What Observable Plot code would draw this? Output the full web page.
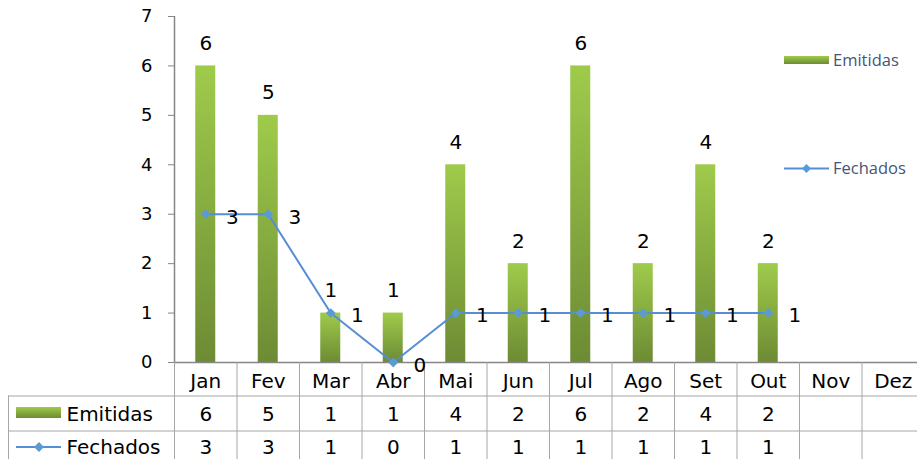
<!DOCTYPE html>
<html>
<head>
<meta charset="utf-8">
<script src="https://cdn.jsdelivr.net/npm/d3@7"></script>
<script src="https://cdn.jsdelivr.net/npm/@observablehq/plot@0.6"></script>
<style>
html, body { margin: 0; padding: 0; background: #fff; }
#chart svg { display: block; }
</style>
</head>
<body>
<div id="chart"></div>
<script>
// ---- data ----
const months = ["Jan", "Fev", "Mar", "Abr", "Mai", "Jun", "Jul", "Ago", "Set", "Out", "Nov", "Dez"];
const emitidas = [6, 5, 1, 1, 4, 2, 6, 2, 4, 2, null, null];
const fechados = [3, 3, 1, 0, 1, 1, 1, 1, 1, 1, null, null];
const seriesNames = ["Emitidas", "Fechados"];
const yTicks = [0, 1, 2, 3, 4, 5, 6, 7];

const rows = months.map((m, i) => ({month: m, emitidas: emitidas[i], fechados: fechados[i]}));
const emitRows = rows.filter(d => d.emitidas != null);
const fechRows = rows.filter(d => d.fechados != null);

// ---- layout ----
const W = 917, H = 459;
const frameLeft = 174, frameTop = 16, frameBottom = 362, frameRight = 924;
const step = (frameRight - frameLeft) / months.length;
const frameH = frameBottom - frameTop;
const tableH = H - frameBottom;
const labelColW = 166;
const rowLine1 = 33.5, rowLine2 = 68.5;
const gridColor = "#a6a6a6", axisColor = "#868686";
const lineColor = "#558ed5", markerColor = "#5b9bd5";
const legendText = "#44557a";

function diamond(g, cx, cy, h) {
  g.append("path")
    .attr("d", `M${cx},${cy - h}L${cx + h},${cy}L${cx},${cy + h}L${cx - h},${cy}Z`)
    .attr("fill", markerColor);
}

const legendMark = () => {
  const g = d3.create("svg:g");
  const lg = g.append("defs").append("linearGradient")
    .attr("id", "emitGrad").attr("x1", 0).attr("y1", 0).attr("x2", 0).attr("y2", 1);
  lg.append("stop").attr("offset", "0%").attr("stop-color", "#9fcb4b");
  lg.append("stop").attr("offset", "100%").attr("stop-color", "#6d8b34");

  // right-side legend
  const rl = g.append("g").attr("font-family", "'Open Sans', sans-serif").attr("font-size", 16.5)
    .attr("fill", legendText).attr("text-anchor", "start");
  rl.append("rect").attr("x", 784).attr("y", 56).attr("width", 45).attr("height", 8).attr("fill", "url(#emitGrad)");
  rl.append("text").attr("x", 833).attr("y", 60).attr("dy", "0.35em").text(seriesNames[0]);
  rl.append("line").attr("x1", 784).attr("x2", 829).attr("y1", 168.5).attr("y2", 168.5)
    .attr("stroke", lineColor).attr("stroke-width", 2);
  diamond(rl, 806.5, 168.5, 4.5);
  rl.append("text").attr("x", 833).attr("y", 168.5).attr("dy", "0.35em").text(seriesNames[1]);

  // table row keys
  g.append("rect").attr("x", 16).attr("y", 407).attr("width", 45).attr("height", 11).attr("fill", "url(#emitGrad)");
  g.append("line").attr("x1", 16).attr("x2", 61).attr("y1", 447).attr("y2", 447)
    .attr("stroke", lineColor).attr("stroke-width", 2);
  diamond(g, 39, 447, 5);
  return g.node();
};

const chart = Plot.plot({
  width: W,
  height: H,
  marginLeft: frameLeft,
  marginRight: 0,
  marginTop: frameTop,
  marginBottom: tableH,
  style: {fontFamily: "'DejaVu Sans', sans-serif", fontSize: "20px", color: "#000", background: "#fff"},
  x: {type: "band", domain: months, range: [frameLeft, frameRight], paddingInner: 0.68, paddingOuter: 0.34, round: false},
  y: {domain: [0, 7], range: [frameBottom, frameTop]},
  marks: [
    legendMark,
    Plot.barY(emitRows, {x: "month", y: "emitidas", fill: "url(#emitGrad)"}),
    // axes lines
    Plot.ruleY([0], {stroke: axisColor, strokeWidth: 1.5}),
    Plot.ruleX([months[0]], {dx: -step / 2, stroke: axisColor, strokeWidth: 1.5}),
    Plot.axisY({ticks: yTicks, tickSize: 6, tickPadding: 16, stroke: axisColor, fill: "#000", fontSize: 18, label: null, tickFormat: d => String(d)}),
    Plot.axisX({tickSize: 0, tickPadding: 11, fill: "#000", fontSize: 20, label: null}),
    // table grid
    Plot.ruleX(months, {dx: -step / 2, insetTop: frameH, insetBottom: -tableH, stroke: gridColor}),
    Plot.ruleY([0], {dy: rowLine1, insetLeft: -labelColW, stroke: gridColor}),
    Plot.ruleY([0], {dy: rowLine2, insetLeft: -labelColW, stroke: gridColor}),
    Plot.ruleX([months[0]], {dx: -step / 2 - labelColW, insetTop: frameH + rowLine1, insetBottom: -tableH, stroke: gridColor}),
    // line series
    Plot.line(fechRows, {x: "month", y: "fechados", stroke: lineColor, strokeWidth: 2}),
    Plot.dot(fechRows, {x: "month", y: "fechados", symbol: "diamond2", r: 4.4, fill: markerColor, stroke: "none"}),
    // data labels
    Plot.text(emitRows, {x: "month", y: "emitidas", text: d => String(d.emitidas), dy: -22.5}),
    Plot.text(fechRows, {x: "month", y: "fechados", text: d => String(d.fechados), dx: 26.5, dy: 3}),
    // table values
    Plot.text(emitRows, {x: "month", frameAnchor: "bottom", lineAnchor: "middle", dy: 52, text: d => String(d.emitidas)}),
    Plot.text(fechRows, {x: "month", frameAnchor: "bottom", lineAnchor: "middle", dy: 85, text: d => String(d.fechados)}),
    Plot.text([seriesNames[0]], {frameAnchor: "bottom-left", lineAnchor: "middle", dx: -108, dy: 52, textAnchor: "start", text: d => d}),
    Plot.text([seriesNames[1]], {frameAnchor: "bottom-left", lineAnchor: "middle", dx: -108, dy: 85, textAnchor: "start", text: d => d})
  ]
});

document.getElementById("chart").appendChild(chart);
</script>
</body>
</html>
